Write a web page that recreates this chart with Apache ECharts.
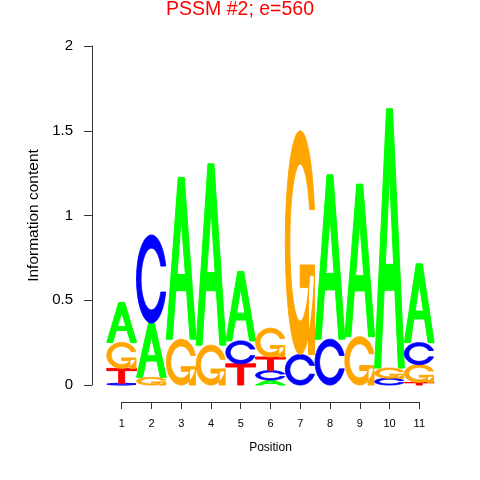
<!DOCTYPE html>
<html><head><meta charset="utf-8">
<script src="https://cdn.jsdelivr.net/npm/echarts@6/dist/echarts.min.js"></script>
<style>html,body{margin:0;padding:0;background:#fff}#c{width:480px;height:480px}</style>
</head><body><div id="c"></div>
<script>
// ---- data ----
const positions = [1, 2, 3, 4, 5, 6, 7, 8, 9, 10, 11];
const heightA = [0.236, 0.32, 0.955, 1.07, 0.41, 0.03, 0.0, 0.97, 0.90, 1.53, 0.465];
const heightC = [0.01, 0.52, 0, 0, 0.135, 0.055, 0.18, 0.27, 0, 0.04, 0.13];
const heightG = [0.153, 0.045, 0.27, 0.235, 0, 0.17, 1.32, 0, 0.285, 0.06, 0.105];
const heightT = [0.088, 0, 0, 0, 0.125, 0.08, 0, 0, 0, 0, 0.015];
const letters = ['A', 'C', 'G', 'T'];
const letterColors = { A: '#00FF00', C: '#0000FF', G: '#FFA500', T: '#FF0000' };

// ---- glyph outlines in unit box (x right, y up) ----
function ringC() {
  const n = 60;
  const a1s = 0.3 + Math.PI / 2;
  const outer = [];
  for (let i = 0; i <= n; i++) { const a = a1s + (Math.PI - a1s) * i / n; outer.push([0.5 + 0.5 * Math.sin(a), 0.5 + 0.5 * Math.cos(a)]); }
  for (let i = 1; i <= n; i++) { const a = Math.PI + 0.5 * Math.PI * i / n; outer.push([0.5 + 0.5 * Math.sin(a), 0.5 + 0.5 * Math.cos(a)]); }
  const hmax = outer[0][1];
  const full = outer.concat(outer.slice().reverse().map(p => [p[0], 1 - p[1]]));
  const inner = [];
  for (let i = 0; i <= n; i++) { const a = a1s + (Math.PI - a1s) * i / n; const y = 0.5 + 0.35 * Math.cos(a); if (y <= hmax) inner.push([0.5 + 0.35 * Math.sin(a), y]); }
  inner[0] = [inner[0][0], hmax];
  for (let i = 1; i <= n; i++) { const a = Math.PI + 0.5 * Math.PI * i / n; inner.push([0.5 + 0.35 * Math.sin(a), 0.5 + 0.35 * Math.cos(a)]); }
  const innerFull = inner.concat(inner.slice().reverse().map(p => [p[0], 1 - p[1]]));
  return { poly: full.concat(innerFull.slice().reverse()), r1: outer[0][0] };
}
const cShape = ringC();
const glyphs = {
  A: [
    [[0, 0], [0.4, 1], [0.6, 1], [1, 0], [0.8, 0], [0.68, 0.3], [0.32, 0.3], [0.2, 0]],
    [[0.36, 0.4], [0.64, 0.4], [0.5, 0.75]]
  ],
  C: [cShape.poly],
  G: [cShape.poly, (function () { const r1 = cShape.r1, h1 = 0.4; return [[r1, h1], [0.5, h1], [0.5, h1 - 0.1], [r1 - 0.2, h1 - 0.1], [r1 - 0.2, 0], [r1, 0]]; })()],
  T: [[[0, 1], [1, 1], [1, 0.85], [0.6, 0.85], [0.6, 0], [0.4, 0], [0.4, 0.85], [0, 0.85]]]
};

function renderItem(params, api) {
  const pos = api.value(0);
  const stack = letters.map((l, k) => ({ l: l, h: api.value(k + 1) })).filter(o => o.h > 0);
  stack.sort((a, b) => a.h - b.h);
  let cum = 0;
  const children = [];
  stack.forEach(o => {
    const p0 = api.coord([pos - 0.5, cum]);
    const p1 = api.coord([pos + 0.5, cum + o.h]);
    cum += o.h;
    const fx = u => p0[0] + u * (p1[0] - p0[0]);
    const fy = v => p0[1] + v * (p1[1] - p0[1]);
    let d = '';
    glyphs[o.l].forEach(poly => {
      poly.forEach((pt, i) => { d += (i === 0 ? 'M' : 'L') + fx(pt[0]).toFixed(2) + ' ' + fy(pt[1]).toFixed(2) + ' '; });
      d += 'Z ';
    });
    children.push({
      type: 'path',
      shape: { pathData: d },
      style: { fill: letterColors[o.l], stroke: letterColors[o.l], lineWidth: 1 },
      silent: true
    });
  });
  return { type: 'group', children: children };
}

const seriesData = positions.map((p, i) => [p, heightA[i], heightC[i], heightG[i], heightT[i]]);
const fam = '"Liberation Sans", Arial, sans-serif';

const chart = echarts.init(document.getElementById('c'), null, { renderer: 'canvas' });
chart.setOption({
  animation: false,
  backgroundColor: '#fff',
  textStyle: { fontFamily: fam },
  title: {
    text: 'PSSM #2; e=560', left: 'center', top: 0, padding: 0,
    textStyle: { color: '#FF0000', fontSize: 19.5, fontWeight: 'normal', fontFamily: fam }
  },
  grid: [
    { left: 90, top: 46, width: 359, height: 339 },
    { left: 121.7, top: 401, width: 297.6, height: 1 }
  ],
  xAxis: [
    { gridIndex: 0, type: 'value', min: -0.065, max: 12, show: false },
    {
      gridIndex: 1, type: 'value', min: 1, max: 11, interval: 1,
      axisLine: { show: true, lineStyle: { color: '#333', width: 1 } },
      axisTick: { show: true, length: 7, lineStyle: { color: '#333' } },
      splitLine: { show: false },
      axisLabel: { fontSize: 11, color: '#000', margin: 16, fontFamily: fam },
      name: 'Position', nameLocation: 'middle', nameGap: 40,
      nameTextStyle: { fontSize: 12, color: '#000', fontFamily: fam }
    }
  ],
  yAxis: [
    {
      gridIndex: 0, type: 'value', min: 0, max: 2, interval: 0.5,
      axisLine: { show: true, lineStyle: { color: '#333', width: 1 } },
      axisTick: { show: true, length: 8, lineStyle: { color: '#333' } },
      splitLine: { show: false },
      axisLabel: { fontSize: 15, color: '#000', margin: 17, fontFamily: fam },
      name: 'Information content', nameLocation: 'middle', nameGap: 41, nameRotate: 90,
      nameTextStyle: { fontSize: 15.5, color: '#000', fontFamily: fam }
    },
    { gridIndex: 1, type: 'value', show: false }
  ],
  series: [{
    type: 'custom',
    xAxisIndex: 0, yAxisIndex: 0,
    renderItem: renderItem,
    encode: { x: 0, y: 1 },
    data: seriesData,
    clip: false
  }]
});
</script>
</body></html>
